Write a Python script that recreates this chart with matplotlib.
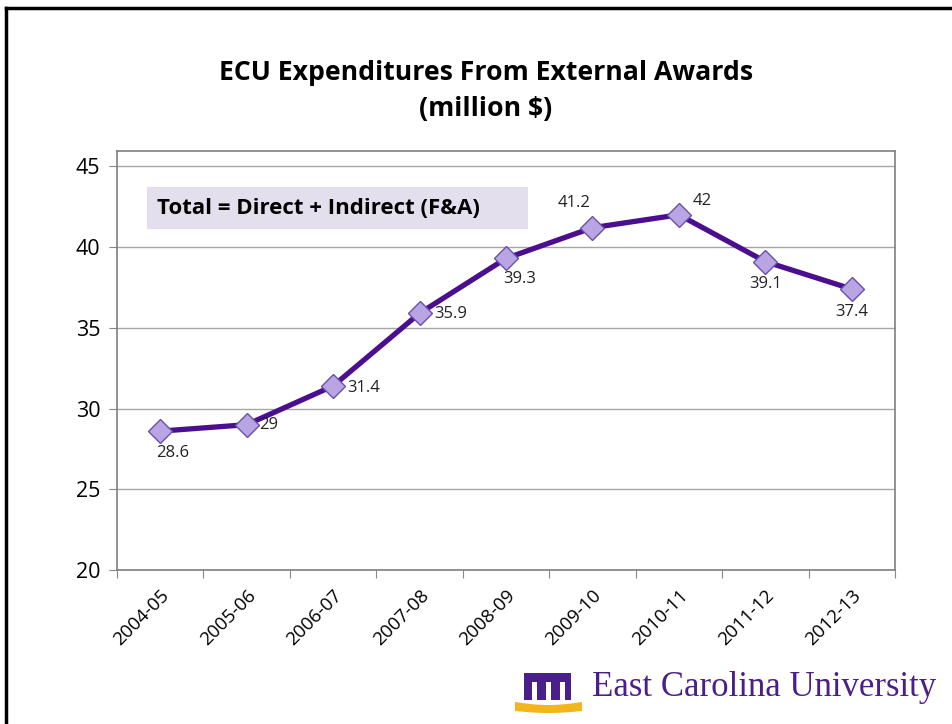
import matplotlib.pyplot as plt
from matplotlib.patches import Rectangle, Polygon
import numpy as np

years = ["2004-05", "2005-06", "2006-07", "2007-08", "2008-09",
         "2009-10", "2010-11", "2011-12", "2012-13"]
spend = [28.6, 29, 31.4, 35.9, 39.3, 41.2, 42, 39.1, 37.4]
point_labels = ["28.6", "29", "31.4", "35.9", "39.3", "41.2", "42", "39.1", "37.4"]
# label offsets in pixels (dx, dy) and alignment
offsets = [(12, -22, "center"), (12, 0, "left"), (14, -2, "left"), (15, -1, "left"),
           (14, -21, "center"), (-18, 25, "center"), (23, 14, "center"),
           (0, -22, "center"), (0, -23, "center")]

fnt = "Open Sans"
W, H = 953, 724
fig = plt.figure(figsize=(9.53, 7.24), dpi=100)
ax = fig.add_axes([117/W, 1-570/H, 778/W, 419/H])

x = np.arange(len(years))
ax.plot(x, spend, color="#4B0E8E", lw=3.8, marker="D", ms=12.5,
        markerfacecolor="#B9A5E3", markeredgecolor="#6A50A7", markeredgewidth=1, zorder=3)

for i, (v, lab) in enumerate(zip(spend, point_labels)):
    dx, dy, ha = offsets[i]
    ax.annotate(lab, (i, v), xytext=(dx*0.72, dy*0.72), textcoords="offset points",
                ha=ha, va="center", fontsize=12, family=fnt, color="#222222")

ax.set_xlim(-0.5, 8.5)
ax.set_ylim(20, 45.95)
ax.set_yticks([20, 25, 30, 35, 40, 45])
ax.yaxis.grid(True, color="#A6A6A6", lw=1)
ax.set_axisbelow(True)
ax.set_xticks(np.arange(-0.5, 9, 1))
ax.set_xticklabels([])
ax.set_xticks(x, minor=True)
ax.set_xticklabels(years, minor=True, rotation=45, ha="right", va="top",
                   rotation_mode="anchor", fontsize=13.5, family=fnt)
ax.tick_params(axis="x", which="minor", length=0, pad=12)
ax.tick_params(axis="x", which="major", length=6, color="#888888", direction="out")
ax.tick_params(axis="y", length=6, color="#888888", labelsize=15.5, pad=6)
for t in ax.get_yticklabels():
    t.set_family(fnt)
for s in ax.spines.values():
    s.set_color("#7F7F7F")
    s.set_linewidth(1.2)

# text box
fig.add_artist(Rectangle((147/W, 1-229/H), 381/W, 42/H, transform=fig.transFigure,
                         facecolor="#E4DFEC", edgecolor="none", zorder=2))
fig.text(157/W, 1-208/H, "Total = Direct + Indirect (F&A)", fontsize=16,
         fontweight="bold", family=fnt, va="center", ha="left", zorder=3)

fig.text(486/W, 1-91/H, "ECU Expenditures From External Awards\n(million $)",
         ha="center", va="center", fontsize=19.2, fontweight="bold", family=fnt,
         linespacing=1.5)

# slide border
fig.add_artist(plt.Line2D([6/W, 6/W], [0, 1-8/H], color="black", lw=2.5))
fig.add_artist(plt.Line2D([6/W, 1], [1-8/H, 1-8/H], color="black", lw=2.5))

# logo
fig.text(592/W, 1-688/H, "East Carolina University", ha="left", va="center",
         fontsize=25, family="Liberation Serif", color="#4B1F8A")
fig.add_artist(Rectangle((524/W, 1-700/H), 47/W, 27/H, transform=fig.transFigure,
                         facecolor="#4B1F8A", edgecolor="none"))
for xa in [532, 546, 560]:
    fig.add_artist(Rectangle((xa/W, 1-700/H), 5/W, 18/H, transform=fig.transFigure,
                             facecolor="white", edgecolor="none"))
xs = np.linspace(515, 582, 30)
top = 1 - (702 + 3*np.sin((xs-515)/67*np.pi))/H
bot = 1 - (711 + 2*np.sin((xs-515)/67*np.pi))/H
fig.add_artist(Polygon(np.column_stack([np.r_[xs, xs[::-1]]/W, np.r_[top, bot[::-1]]]),
                       closed=True, transform=fig.transFigure,
                       facecolor="#F2B51C", edgecolor="none"))

fig.savefig("out.png", dpi=100)
